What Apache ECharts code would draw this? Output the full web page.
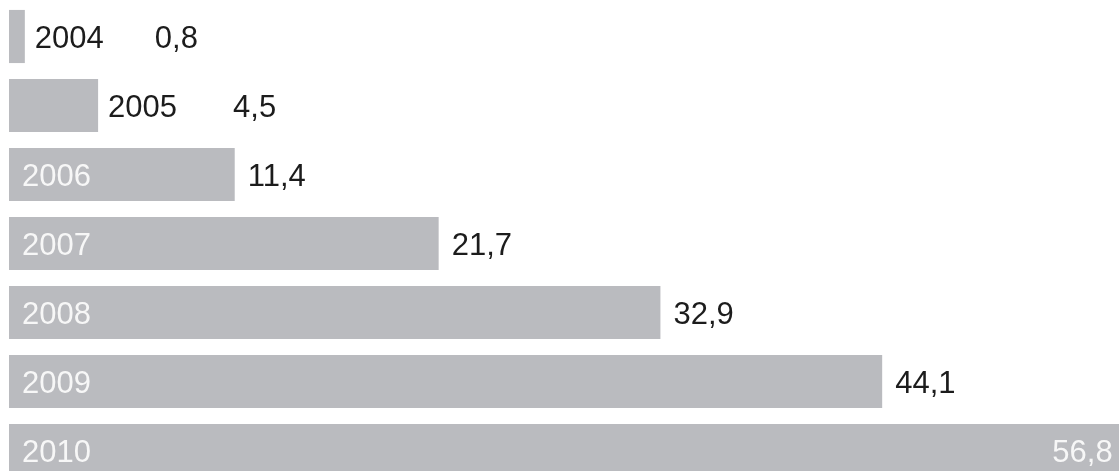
<!DOCTYPE html>
<html>
<head>
<meta charset="utf-8">
<script src="https://cdn.jsdelivr.net/npm/echarts@6/dist/echarts.min.js"></script>
<style>
  html, body { margin: 0; padding: 0; background: #fff; }
  #year-chart { width: 1119px; height: 471px; }
</style>
</head>
<body>
<div id="year-chart"></div>
<script>
let years = ['2004', '2005', '2006', '2007', '2008', '2009', '2010'];
let values = [0.8, 4.5, 11.4, 21.7, 32.9, 44.1, 56.8];
let valueLabels = ['0,8', '4,5', '11,4', '21,7', '32,9', '44,1', '56,8'];

let yearChart = echarts.init(document.getElementById('year-chart'));

let barColor = '#babbbf';
let darkText = '#1c1c1c';
let lightText = '#f7f7f7';
let fontFamily = 'Liberation Sans, Arial, sans-serif';

// bars with the year written on them (or beside them when too short)
let barData = values.map((v, i) => {
  let small = v < 8;
  return {
    value: v,
    label: {
      show: true,
      position: small ? 'right' : 'insideLeft',
      distance: small ? 10 : 13,
      color: small ? darkText : lightText,
      formatter: years[i]
    }
  };
});

// transparent copy of the bars carrying the value labels
let valueData = values.map((v, i) => {
  let small = v < 8;
  let last = i === values.length - 1;
  return {
    value: v,
    label: {
      show: true,
      position: last ? 'insideRight' : 'right',
      distance: last ? 21 : (small ? (i === 0 ? 130 : 135) : 13),
      color: last ? lightText : darkText,
      formatter: valueLabels[i]
    }
  };
});

let yearOption = {
  backgroundColor: '#ffffff',
  animation: false,
  grid: {
    left: 9,
    top: 2,
    width: 1188,
    height: 483,
    outerBoundsMode: 'none',
    containLabel: false
  },
  xAxis: {
    type: 'value',
    min: 0,
    max: 60,
    show: false,
    splitLine: { show: false }
  },
  yAxis: {
    type: 'category',
    inverse: true,
    data: years,
    show: false
  },
  series: [
    {
      name: 'bars',
      type: 'bar',
      barCategoryGap: '23%',
      itemStyle: { color: barColor },
      label: {
        fontSize: 31,
        fontFamily: fontFamily,
        offset: [0, 3]
      },
      data: barData
    },
    {
      name: 'values',
      type: 'bar',
      barGap: '-100%',
      barCategoryGap: '23%',
      itemStyle: { color: 'rgba(0,0,0,0)' },
      label: {
        fontSize: 31,
        fontFamily: fontFamily,
        offset: [0, 3]
      },
      data: valueData
    }
  ]
};

yearChart.setOption(yearOption);
</script>
</body>
</html>
